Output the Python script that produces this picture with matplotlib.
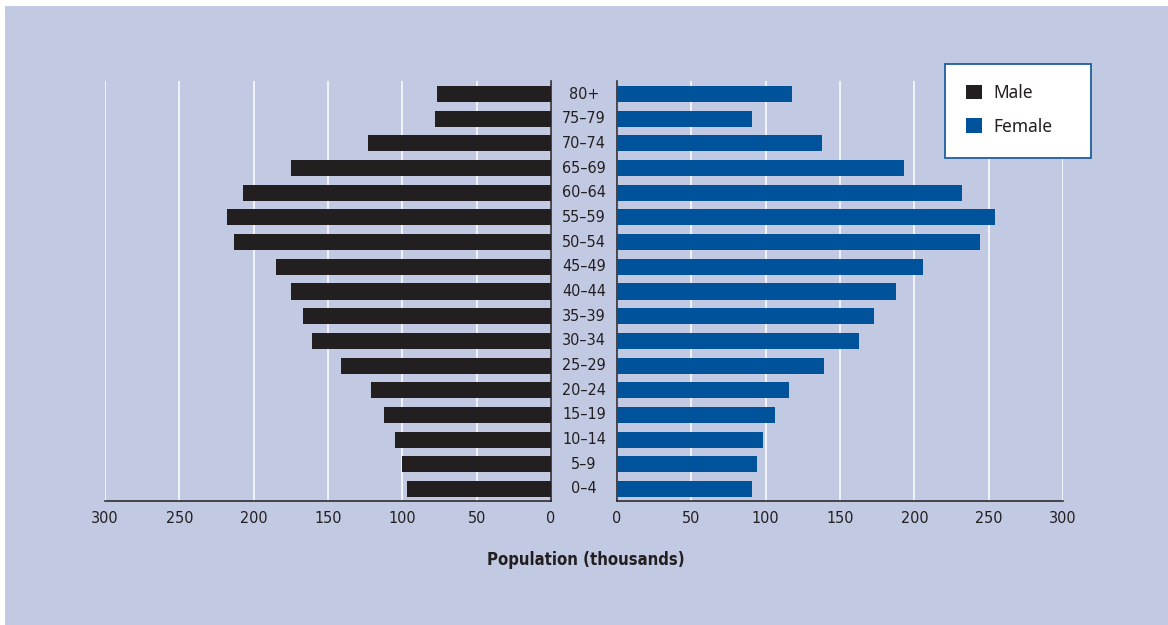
import numpy as np
import matplotlib
matplotlib.use("Agg")
import matplotlib.pyplot as plt
from matplotlib.patches import Rectangle, Patch
from matplotlib.transforms import blended_transform_factory

# ---------- Data (thousands) ----------
age_groups = ['0–4', '5–9', '10–14', '15–19', '20–24', '25–29', '30–34', '35–39',
              '40–44', '45–49', '50–54', '55–59', '60–64', '65–69', '70–74', '75–79', '80+']
male = [97, 100, 105, 112, 121, 141, 161, 167, 175, 185, 213, 218, 207, 175, 123, 78, 77]
female = [91, 94, 98, 106, 116, 139, 163, 173, 188, 206, 244, 254, 232, 193, 138, 91, 118]
ticks = [0, 50, 100, 150, 200, 250, 300]

BG = '#c2c9e3'
DARK = '#231f20'
BLUE = '#00539b'
plt.rcParams['font.family'] = ['DejaVu Sans']
plt.rcParams['font.stretch'] = 'condensed'

W, H = 1168, 625
fig = plt.figure(figsize=(W / 100, H / 100), dpi=100, facecolor='white')
fig.patches.append(Rectangle((5 / W, 0), 1 - 5 / W, 1 - 6 / H, transform=fig.transFigure,
                             facecolor=BG, edgecolor='none', zorder=-10))

bottom, top = 1 - 501 / H, 1 - 81 / H
axm = fig.add_axes([105 / W, bottom, 446 / W, top - bottom])
axf = fig.add_axes([617 / W, bottom, 446 / W, top - bottom])

y = np.arange(len(age_groups))
axm.barh(y, male, height=0.65, color=DARK, zorder=3)
axf.barh(y, female, height=0.65, color=BLUE, zorder=3)

for ax in (axm, axf):
    ax.set_facecolor('none')
    ax.set_xlim(0, 300)
    ax.set_ylim(-0.49, 16.53)
    ax.set_xticks(ticks)
    ax.set_xticklabels([str(t) for t in ticks])
    ax.set_yticks([])
    ax.tick_params(axis='x', length=0, pad=7, labelsize=11.5, labelcolor=DARK)
    ax.grid(axis='x', color='white', linewidth=1.1, zorder=1)
    ax.set_axisbelow(True)
    for s in ax.spines.values():
        s.set_visible(False)
    ax.spines['bottom'].set_visible(True)
    ax.spines['bottom'].set_color(DARK)
    ax.spines['bottom'].set_linewidth(1.1)

axm.invert_xaxis()
axm.spines['right'].set_visible(True)
axm.spines['right'].set_color(DARK)
axm.spines['right'].set_linewidth(1.1)
axf.spines['left'].set_visible(True)
axf.spines['left'].set_color(DARK)
axf.spines['left'].set_linewidth(1.1)

# age labels in the gap between the two halves
tr = blended_transform_factory(fig.transFigure, axf.transData)
for yi, lab in zip(y, age_groups):
    fig.text(584 / W, yi, lab, transform=tr, ha='center', va='center',
             fontsize=11.5, color=DARK)

fig.text(586 / W, 1 - 560 / H, 'Population (thousands)', ha='center', va='center',
         fontsize=12, fontweight='bold', color=DARK)

# legend
fig.patches.append(Rectangle((945 / W, 1 - 158 / H), 146 / W, 94 / H, transform=fig.transFigure,
                             facecolor='white', edgecolor='#1f5fa0', linewidth=1.3, zorder=5))
handles = [Patch(facecolor=DARK, edgecolor='none', label='Male'),
           Patch(facecolor=BLUE, edgecolor='none', label='Female')]
leg = fig.legend(handles=handles, loc='upper left', bbox_to_anchor=(966 / W, 1 - 84 / H),
                 frameon=False, borderaxespad=0, borderpad=0, handlelength=0.9,
                 handleheight=0.9, handletextpad=0.65, labelspacing=0.9,
                 prop={'family': ['Noto Sans', 'DejaVu Sans'], 'stretch': 'normal', 'size': 12.5})
leg.set_zorder(6)
for t in leg.get_texts():
    t.set_color(DARK)

fig.savefig('out.png', dpi=100, facecolor='white')
